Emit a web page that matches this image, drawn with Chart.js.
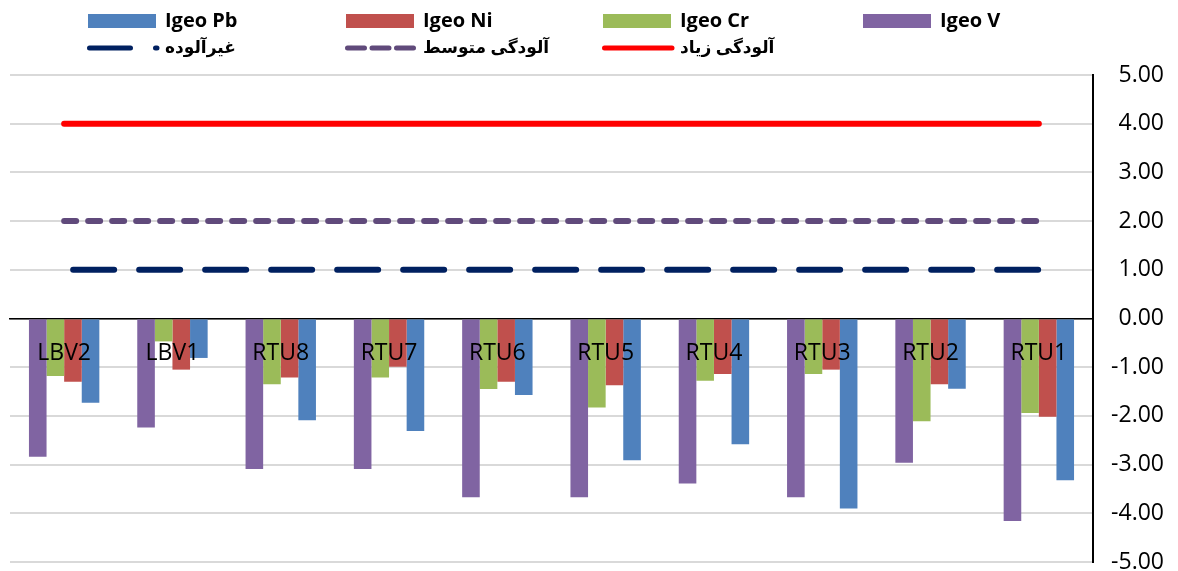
<!DOCTYPE html>
<html>
<head>
<meta charset="utf-8">
<script src="https://cdn.jsdelivr.net/npm/chart.js@4.4.0/dist/chart.umd.min.js"></script>
<style>
  html, body { margin: 0; padding: 0; background: #fff; }
  #wrap { width: 1178px; height: 571px; }
</style>
</head>
<body>
<div id="wrap"><canvas id="c" width="1178" height="571"></canvas></div>
<script>
// Sampling stations
const stations = ['LBV2', 'LBV1', 'RTU8', 'RTU7', 'RTU6', 'RTU5', 'RTU4', 'RTU3', 'RTU2', 'RTU1'];

// Geo-accumulation index per metal
const igeoV  = [-2.84, -2.24, -3.09, -3.09, -3.67, -3.67, -3.39, -3.67, -2.96, -4.16];
const igeoCr = [-1.18, -0.47, -1.35, -1.21, -1.45, -1.83, -1.28, -1.14, -2.11, -1.94];
const igeoNi = [-1.30, -1.05, -1.21, -0.99, -1.30, -1.37, -1.14, -1.05, -1.35, -2.02];
const igeoPb = [-1.73, -0.81, -2.09, -2.31, -1.57, -2.91, -2.58, -3.90, -1.44, -3.32];

// Pollution class thresholds
const unpolluted = [1, 1, 1, 1, 1, 1, 1, 1, 1, 1];
const moderate   = [2, 2, 2, 2, 2, 2, 2, 2, 2, 2];
const heavy      = [4, 4, 4, 4, 4, 4, 4, 4, 4, 4];

// Value axis
const yMin = -5;
const yMax = 5;
const yStep = 1;

// Legend rows, in display order
const legendRows = [
  ['Igeo Pb', 'Igeo Ni', 'Igeo Cr', 'Igeo V'],
  ['غیرآلوده', 'آلودگی متوسط', 'آلودگی زیاد']
];

const FONT = "'Open Sans', 'DejaVu Sans', sans-serif";

// Two-row legend laid out on fixed columns
const legendPlugin = {
  id: 'gridLegend',
  afterDraw(chart) {
    const ctx = chart.ctx;
    const cols = [88, 346, 603, 863];
    const rowsY = [21, 48];
    const symW = 68;
    ctx.save();
    legendRows.forEach((row, r) => {
      row.forEach((label, i) => {
        const ds = chart.data.datasets.find(d => d.label === label);
        const x = cols[i];
        const y = rowsY[r];
        if (ds.type === 'line') {
          ctx.beginPath();
          ctx.strokeStyle = ds.borderColor;
          ctx.lineWidth = 5;
          ctx.lineCap = 'round';
          ctx.setLineDash(ds.legendDash || []);
          ctx.moveTo(x + 1.5, y);
          ctx.lineTo(x + symW + 1, y);
          ctx.stroke();
          ctx.setLineDash([]);
        } else {
          ctx.fillStyle = ds.backgroundColor;
          ctx.fillRect(x, y - 7, symW, 14);
        }
        const latin = /^[\x00-\x7F]*$/.test(label);
        ctx.fillStyle = '#000';
        ctx.font = 'bold ' + (latin ? 20 : 17) + 'px ' + FONT;
        ctx.textAlign = 'left';
        ctx.textBaseline = 'middle';
        ctx.fillText(label, x + symW + 9, y);
      });
    });
    ctx.restore();
  }
};

const barDs = (label, data, color) => ({
  type: 'bar', label, data, backgroundColor: color, borderWidth: 0,
  categoryPercentage: 0.65, barPercentage: 1.0
});

const lineDs = (label, data, color, dash, dashOffset, legendDash) => ({
  type: 'line', label, data, borderColor: color, backgroundColor: color,
  borderWidth: 6, borderDash: dash, borderDashOffset: dashOffset,
  borderCapStyle: 'round', pointRadius: 0, fill: false, tension: 0,
  legendDash
});

new Chart(document.getElementById('c'), {
  data: {
    labels: stations,
    datasets: [
      barDs('Igeo V', igeoV, '#8064a2'),
      barDs('Igeo Cr', igeoCr, '#9bbb59'),
      barDs('Igeo Ni', igeoNi, '#c0504d'),
      barDs('Igeo Pb', igeoPb, '#4f81bd'),
      lineDs('غیرآلوده', unpolluted, '#002060', [41, 25], 57, [41, 25]),
      lineDs('آلودگی متوسط', moderate, '#604a7b', [12, 12], 0, [17, 7.5]),
      lineDs('آلودگی زیاد', heavy, '#ff0000', [], 0, [])
    ]
  },
  options: {
    responsive: false,
    animation: false,
    layout: { padding: { top: 75, left: 10, right: 14, bottom: 0 } },
    plugins: {
      legend: { display: false },
      tooltip: { enabled: false }
    },
    scales: {
      x: {
        type: 'category',
        position: { y: 0 },
        offset: true,
        grid: { display: false, drawTicks: false },
        border: { display: true, color: '#000', width: 1.5 },
        ticks: {
          z: 1,
          color: '#000',
          font: { family: FONT, size: 23 },
          padding: 21,
          maxRotation: 0,
          autoSkip: false
        },
        afterFit(s) { s.height = 0; }
      },
      y: {
        position: 'right',
        min: yMin,
        max: yMax,
        grid: { color: '#d9d9d9', lineWidth: 2, drawTicks: false },
        border: { display: true, color: '#000', width: 2 },
        ticks: {
          stepSize: yStep,
          color: '#000',
          font: { family: FONT, size: 23 },
          crossAlign: 'far',
          padding: 6,
          callback: v => Number(v).toFixed(2)
        },
        afterFit(s) { s.width = 71; s.paddingBottom = 9; }
      }
    }
  },
  plugins: [legendPlugin]
});
</script>
</body>
</html>
